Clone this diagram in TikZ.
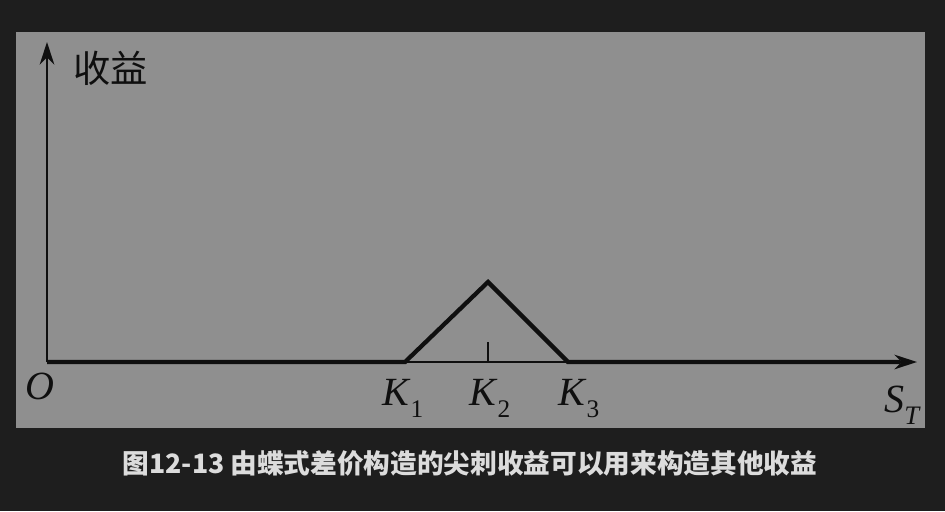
\documentclass[tikz,border=0pt]{standalone}
\usepackage{fontspec}
\setmainfont{Liberation Serif}
\newfontfamily\cjk{Noto Sans CJK SC}
\usetikzlibrary{arrows.meta}
\definecolor{bgdark}{RGB}{30,30,30}
\definecolor{panelgray}{RGB}{143,143,143}
\definecolor{capgray}{RGB}{220,220,220}
\definecolor{inkblack}{RGB}{15,15,15}
\newcommand {\klab}[2] {\textit{#1}\raisebox{-0.32em}{\fontsize{19}{19}\selectfont #2}}

\begin{document}
\begin{tikzpicture}[x=0.75pt,y=-0.75pt,
  axis/.style={inkblack,line width=1.5pt,-{Stealth[length=17pt,width=11pt]}},
  payoff/.style={inkblack,line width=3.2pt,line join=miter},
  lab/.style={inkblack,inner sep=0pt,anchor=base west,font=\fontsize{30}{30}\selectfont}]
 	\useasboundingbox (0,0) rectangle (945,511);
 	\fill[bgdark] (0,0) rectangle (945,511);
 	\fill[panelgray] (16,32) rectangle (925,428);

	\coordinate (O) at (47,362);
	\coordinate (ytip) at (47,42);
	\coordinate (xtip) at (917,362);
	\coordinate (k1) at (405,362);
	\coordinate (peak) at (488,282);
	\coordinate (k3) at (568,362);
	\coordinate (xend) at (900,362);
	\coordinate (tick) at (488,342);

	% axes
	\draw[axis] (O) -- (ytip);
	\draw[axis] (O) -- (xtip);
	\draw[inkblack,line width=1.5pt] (tick) -- (488,362);

	% spike payoff
	\draw[payoff] (O) -- (k1) -- (peak) -- (k3) -- (xend);

	\node[lab] (olab) at (25,399) {\textit{O}};
	\node[lab,font=\cjk\fontsize{28}{28}\selectfont] (ylab) at (73,82) {收益};
	\node[lab] (k1lab) at (382,405) {\klab{K}{1}};
	\node[lab] (k2lab) at (469,405) {\klab{K}{2}};
	\node[lab] (k3lab) at (558,405) {\klab{K}{3}};
	\node[lab] (xlab) at (884,412) {\textit{S}\raisebox{-0.3em}{\fontsize{20}{20}\selectfont\textit{T}}};

	\node[capgray,inner sep=0pt,font=\cjk\bfseries\fontsize{20}{20}\selectfont] (caption) at (470,463)
	  {图12-13 由蝶式差价构造的尖刺收益可以用来构造其他收益};
\end{tikzpicture}
\end{document}
